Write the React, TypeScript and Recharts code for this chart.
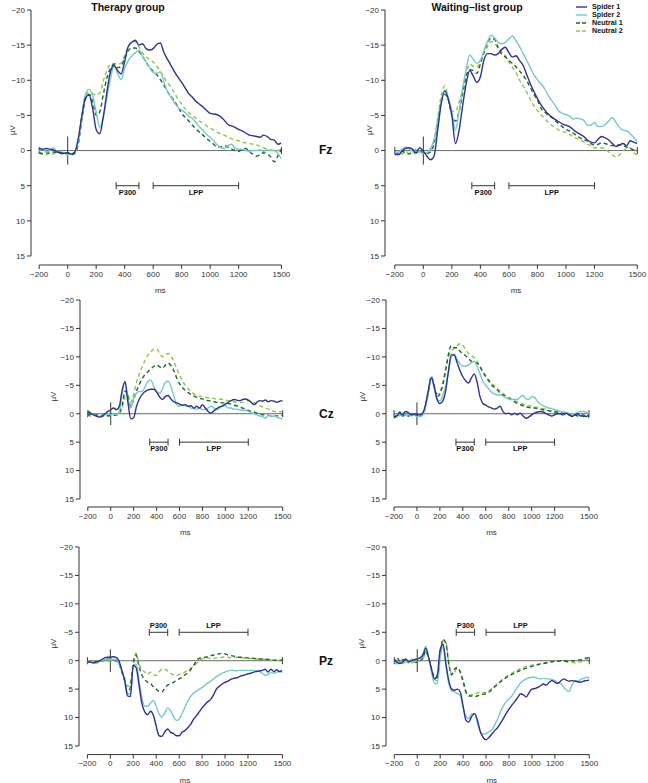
import React from 'react';
import { LineChart, Line, XAxis, YAxis, ReferenceLine, Label } from 'recharts';

// sample times in ms, one every 25 ms
const TIME = [
  -200, -175, -150, -125, -100, -75, -50, -25, 0,
  25, 50, 75, 100, 125, 150, 175, 200, 225, 250, 275, 300, 325, 350, 375, 400, 425, 450, 475, 500,
  525, 550, 575, 600, 625, 650, 675, 700, 725, 750, 775, 800, 825, 850, 875, 900, 925, 950, 975, 1000,
  1025, 1050, 1075, 1100, 1125, 1150, 1175, 1200, 1225, 1250, 1275, 1300, 1325, 1350, 1375, 1400, 1425, 1450, 1475, 1500,
];

const X_TICKS = [-200, 0, 200, 400, 600, 800, 1000, 1200, 1500];
const Y_TICKS = [-20, -15, -10, -5, 0, 5, 10, 15];

const P300 = [340, 500];
const LPP = [600, 1200];

const CONDITIONS = [
  { key: 'spider1', name: 'Spider 1', color: '#2e3192', dash: undefined },
  { key: 'spider2', name: 'Spider 2', color: '#74c9cc', dash: undefined },
  { key: 'neutral1', name: 'Neutral 1', color: '#1d6531', dash: '4 3' },
  { key: 'neutral2', name: 'Neutral 2', color: '#8dc63f', dash: '4 3' },
];

// ---- Fz ----
const FZ_THERAPY_SPIDER1 = [
  -0.3, -0.2, -0.3, -0.2, -0.1, 0.2, 0.3, 0.4, 0.3,
  0.5, 0.2, -1.8, -5.0, -7.5, -7.9, -6.0, -3.0, -2.4, -4.8, -8.3, -11.2, -12.1, -11.4, -10.9, -12.7, -14.8, -15.4, -15.7, -15.0,
  -15.2, -14.5, -14.3, -14.5, -15.1, -15.3, -14.0, -13.0, -12.1, -11.2, -10.4, -9.7, -8.9, -8.1, -7.6, -7.0, -6.6, -6.2, -5.7, -5.3,
  -5.2, -5.1, -4.8, -4.3, -3.7, -3.5, -3.3, -3.0, -2.8, -2.5, -2.2, -2.1, -2.0, -1.9, -2.2, -2.0, -1.6, -1.5, -0.9, -1.1,
];
const FZ_THERAPY_SPIDER2 = [
  0.1, -0.2, 0.2, 0.0, -0.4, 0.1, 0.2, 0.3, 0.6,
  0.4, 0.3, -1.5, -5.0, -8.0, -8.7, -7.8, -5.5, -3.3, -4.8, -7.5, -10.2, -12.0, -11.0, -10.1, -11.7, -12.8, -13.5, -13.9, -14.3,
  -13.4, -12.6, -11.8, -11.1, -11.0, -11.2, -9.8, -8.4, -7.6, -6.8, -6.1, -5.8, -5.4, -4.9, -4.6, -4.0, -3.4, -2.9, -2.3, -1.9,
  -1.4, -0.8, -0.4, -0.3, -0.7, -0.9, -0.3, -0.2, -0.2, 0.0, 0.1, 0.0, 0.0, -0.1, 0.1, -0.1, 0.0, 0.0, 0.4, 1.2,
];
const FZ_THERAPY_NEUTRAL1 = [
  0.3, 0.5, 0.3, 0.4, 0.2, 0.3, 0.4, 0.5, 0.3,
  0.6, 0.4, -1.0, -4.5, -7.3, -8.0, -7.0, -5.0, -5.5, -8.0, -10.3, -11.7, -12.3, -11.8, -12.0, -13.2, -14.2, -14.6, -14.6, -14.1,
  -13.4, -12.6, -11.8, -11.3, -10.8, -10.1, -9.3, -8.4, -7.7, -7.0, -6.2, -5.3, -4.7, -4.2, -3.6, -3.1, -2.6, -2.2, -1.7, -1.3,
  -0.9, -0.5, -0.5, -0.7, -0.5, -0.2, 0.0, 0.1, -0.2, -0.3, 0.2, 0.5, 0.8, 0.6, 0.3, 0.5, 0.9, 1.6, 0.8, -0.2,
];
const FZ_THERAPY_NEUTRAL2 = [
  0.2, 0.4, 0.6, 0.3, 0.5, 0.1, 0.4, 0.3, 0.4,
  0.5, 0.3, -1.5, -5.2, -7.8, -8.3, -8.1, -7.9, -8.2, -9.9, -11.4, -12.3, -12.4, -12.3, -12.4, -13.6, -14.8, -15.5, -15.5, -14.8,
  -13.9, -13.3, -13.0, -12.6, -12.0, -11.3, -10.4, -9.7, -9.0, -8.2, -7.3, -6.6, -5.9, -5.4, -5.0, -4.6, -4.2, -3.9, -3.5, -3.2,
  -2.9, -2.6, -2.4, -2.2, -1.9, -1.7, -1.5, -1.4, -1.2, -1.1, -1.0, -0.9, -0.8, -0.6, -0.4, -0.2, -0.1, 0.0, 0.0, -0.2,
];
const FZ_WAITING_SPIDER1 = [
  0.5, 0.6, 0.1, -0.3, -0.4, -0.2, 0.3, -0.4, 0.1,
  0.8, 1.3, 0.8, -2.8, -6.6, -8.5, -7.3, -5.0, -1.0, -2.8, -6.3, -9.5, -11.4, -10.6, -9.7, -10.5, -12.9, -13.8, -13.8, -13.6,
  -13.8, -14.4, -14.7, -13.9, -13.3, -13.5, -12.8, -12.1, -10.8, -9.5, -8.4, -7.4, -6.5, -5.8, -5.2, -4.8, -4.4, -4.1, -3.8, -3.6,
  -3.4, -3.0, -2.6, -2.3, -2.0, -1.5, -1.2, -1.1, -1.6, -2.0, -1.8, -1.5, -1.0, -0.6, -0.8, -1.0, -0.7, -1.4, -1.2, -1.0,
];
const FZ_WAITING_SPIDER2 = [
  0.3, 0.2, -0.2, -0.5, -0.3, 0.1, -0.2, 0.2, 0.4,
  0.3, -0.3, -1.5, -4.0, -7.0, -8.6, -7.6, -5.5, -2.9, -5.5, -8.8, -11.5, -13.6, -13.0, -12.4, -12.8, -14.2, -15.5, -16.4, -16.0,
  -15.4, -15.2, -15.4, -15.9, -16.3, -15.6, -14.8, -13.8, -12.8, -11.8, -10.8, -10.1, -9.5, -8.8, -7.9, -7.1, -6.4, -5.6, -5.3, -5.1,
  -4.9, -4.5, -4.6, -4.5, -4.3, -3.6, -3.6, -4.0, -3.4, -3.4, -3.7, -4.2, -4.7, -4.0, -3.3, -2.9, -2.8, -2.4, -1.9, -1.2,
];
const FZ_WAITING_NEUTRAL1 = [
  0.2, 0.4, 0.1, 0.3, 0.5, 0.2, 0.3, 0.1, 0.3,
  0.4, 0.2, -1.0, -4.0, -7.0, -8.0, -7.2, -5.0, -4.2, -5.5, -8.0, -10.5, -11.5, -11.4, -11.0, -12.3, -14.0, -15.3, -16.0, -15.8,
  -14.6, -13.7, -13.3, -12.8, -12.4, -11.9, -11.3, -10.7, -9.9, -9.0, -8.0, -7.2, -6.0, -5.5, -5.0, -4.7, -4.2, -3.8, -3.4, -3.0,
  -2.8, -2.5, -2.1, -1.8, -1.5, -1.4, -1.0, -0.8, -0.9, -1.1, -1.0, -0.8, -0.7, -0.8, -0.8, -0.7, -0.5, -0.3, -0.1, 0.1,
];
const FZ_WAITING_NEUTRAL2 = [
  0.7, 0.3, 0.5, 0.1, 0.4, 0.2, 0.5, 0.2, 0.3,
  0.4, 0.2, -1.5, -4.5, -7.8, -9.2, -7.5, -5.6, -5.6, -6.8, -8.6, -10.8, -12.3, -12.0, -11.8, -12.8, -13.9, -14.8, -15.5, -15.2,
  -14.6, -14.0, -13.5, -12.6, -11.8, -11.1, -10.0, -9.2, -8.3, -7.3, -6.4, -5.7, -5.1, -4.6, -4.0, -3.6, -3.3, -2.9, -2.7, -2.6,
  -2.3, -2.0, -1.7, -1.6, -1.2, -0.9, -0.7, -0.4, -0.4, -0.4, -0.2, 0.2, 0.6, 0.9, 0.6, 0.1, -0.3, -0.4, 0.3, 0.6,
];

// ---- Cz ----
const CZ_THERAPY_SPIDER1 = [
  -0.4, -0.1, 0.2, 0.4, 0.6, 0.4, 0.0, -0.4, -0.7,
  -1.0, -0.7, -1.3, -4.2, -5.6, -2.0, 0.9, 0.7, -1.3, -2.6, -3.4, -3.9, -4.2, -4.3, -4.3, -3.8, -3.0, -2.5, -3.0, -3.2,
  -2.6, -2.1, -1.9, -1.7, -1.5, -1.6, -1.3, -1.4, -1.0, -1.3, -1.0, -1.6, -1.0, -0.4, -0.1, -0.5, -0.9, -1.2, -1.4, -1.7,
  -2.0, -2.3, -2.5, -2.4, -2.3, -2.5, -2.6, -2.4, -2.0, -1.6, -2.0, -2.3, -2.2, -2.4, -2.1, -2.3, -2.2, -2.0, -2.2, -2.3,
];
const CZ_THERAPY_SPIDER2 = [
  -0.6, -0.1, 0.2, 0.4, 0.5, 0.2, 0.2, 0.0, 0.2,
  0.0, 0.2, -0.4, -3.6, -5.7, -2.5, -1.0, -2.8, -3.6, -3.9, -3.9, -4.8, -5.7, -5.9, -4.8, -3.9, -3.6, -4.3, -5.5, -5.7,
  -4.8, -3.1, -1.6, -1.3, -1.6, -1.4, -1.3, -1.0, -0.9, -0.8, -1.0, -0.7, -0.8, -1.0, -1.3, -1.0, -0.7, -1.0, -1.3, -1.4,
  -1.0, -1.0, -0.8, -0.8, -0.7, -0.6, -0.6, -0.4, -0.2, 0.0, 0.2, 0.4, 0.5, 0.8, 0.2, 0.5, 0.4, 0.6, 0.8, 0.9,
];
const CZ_THERAPY_NEUTRAL1 = [
  0.3, 0.1, 0.4, 0.2, 0.3, 0.5, 0.2, 0.4, 0.3,
  0.3, 0.2, -0.2, -1.5, -4.0, -3.0, -1.2, -2.5, -4.0, -5.2, -6.2, -6.9, -7.4, -7.9, -8.3, -8.6, -8.3, -8.0, -8.5, -8.9,
  -8.5, -7.6, -6.3, -5.3, -4.6, -4.1, -3.7, -3.4, -3.1, -2.9, -2.7, -2.6, -2.4, -2.3, -2.2, -2.1, -2.0, -2.0, -1.9, -1.9,
  -1.8, -1.7, -1.5, -1.4, -1.2, -1.0, -0.8, -0.6, -0.4, -0.3, -0.1, 0.0, 0.2, 0.2, 0.3, 0.4, 0.4, 0.4, 0.3, 0.2,
];
const CZ_THERAPY_NEUTRAL2 = [
  0.2, 0.4, 0.1, 0.3, 0.6, 0.3, 0.1, 0.3, 0.2,
  0.3, 0.3, 0.0, -1.0, -3.0, -3.3, -2.0, -3.5, -5.5, -7.0, -8.3, -9.4, -10.3, -10.9, -11.3, -11.4, -10.7, -10.0, -10.3, -10.6,
  -10.2, -9.2, -8.0, -6.8, -5.8, -5.0, -4.4, -3.9, -3.5, -3.2, -3.1, -3.0, -2.9, -2.8, -2.8, -2.7, -2.6, -2.6, -2.5, -2.4,
  -2.3, -2.2, -2.1, -2.0, -2.0, -2.0, -2.2, -2.3, -2.2, -1.9, -1.6, -1.4, -1.2, -1.0, -0.8, -0.6, -0.4, -0.3, -0.3, -0.4,
];
const CZ_WAITING_SPIDER1 = [
  0.5, 0.4, -0.1, 0.2, -0.4, -0.2, 0.2, 0.0, 0.2,
  0.2, -0.1, -1.6, -4.2, -6.3, -4.8, -2.6, -1.8, -2.2, -4.0, -7.5, -10.4, -10.3, -9.0, -7.6, -6.5, -5.8, -5.4, -6.3, -7.0,
  -5.5, -3.0, -1.8, -1.5, -1.2, -1.0, -0.8, -1.0, -1.3, -0.4, 0.0, -0.1, 0.2, -0.1, 0.2, -0.1, 0.4, 0.8, 0.6, 0.2,
  -0.1, -0.3, -0.4, -0.3, 0.0, 0.2, 0.4, 0.2, 0.0, 0.0, 0.2, -0.1, 0.2, 0.5, 0.2, 0.0, 0.4, 0.2, 0.5, 0.2,
];
const CZ_WAITING_SPIDER2 = [
  0.6, 0.2, 0.4, -0.2, 0.3, 0.1, 0.4, 0.2, 0.5,
  0.5, 0.3, -1.3, -4.0, -6.5, -4.5, -2.5, -2.3, -3.2, -4.8, -7.5, -10.0, -10.5, -9.5, -8.8, -8.4, -8.4, -8.6, -9.0, -9.2,
  -8.3, -7.0, -5.7, -5.0, -4.4, -3.8, -3.5, -3.3, -3.3, -3.1, -2.8, -2.6, -2.5, -2.5, -2.5, -2.9, -3.2, -2.6, -2.5, -3.0,
  -2.9, -2.2, -1.7, -1.4, -1.2, -1.0, -0.9, -0.7, -0.6, -0.4, -0.3, -0.2, -0.1, 0.0, 0.1, -0.2, -0.4, -0.4, -0.3, 0.0,
];
const CZ_WAITING_NEUTRAL1 = [
  0.8, 0.2, -0.3, 0.5, 0.0, 0.4, 0.1, 0.3, 0.2,
  0.3, 0.0, -1.5, -4.0, -6.6, -5.0, -3.0, -3.5, -5.0, -7.5, -10.5, -12.0, -11.6, -11.6, -11.0, -10.6, -10.2, -9.7, -9.2, -9.0,
  -8.9, -8.2, -7.3, -6.5, -5.8, -5.1, -4.6, -4.2, -3.6, -3.3, -3.0, -2.7, -2.4, -2.1, -1.8, -1.6, -1.4, -1.2, -1.1, -1.0,
  -1.0, -0.9, -0.8, -0.7, -0.6, -0.5, -0.4, -0.3, -0.3, -0.2, -0.1, 0.0, 0.1, 0.3, 0.2, 0.4, 0.3, 0.5, 0.3, 0.6,
];
const CZ_WAITING_NEUTRAL2 = [
  0.3, 0.6, 0.2, 0.4, 0.1, 0.5, 0.3, 0.2, 0.4,
  0.3, 0.2, -1.2, -3.5, -6.2, -5.0, -3.5, -3.8, -5.5, -8.0, -10.0, -11.0, -11.5, -12.0, -12.3, -12.0, -11.3, -10.6, -10.2, -9.8,
  -9.2, -8.4, -7.5, -6.8, -6.0, -5.4, -4.9, -4.4, -4.0, -3.6, -3.2, -2.9, -2.6, -2.3, -2.1, -1.9, -1.7, -1.5, -1.4, -1.3,
  -1.2, -1.1, -1.0, -0.9, -0.8, -0.6, -0.5, -0.4, -0.3, -0.2, 0.0, 0.2, 0.1, 0.3, 0.2, 0.1, 0.3, 0.4, 0.6, 0.8,
];

// ---- Pz ----
const PZ_THERAPY_SPIDER1 = [
  0.3, 0.2, 0.4, 0.2, 0.1, -0.2, -0.5, -0.6, -0.6,
  -0.7, -0.6, 0.0, 1.7, 3.5, 6.2, 6.3, 0.8, 1.2, 4.3, 7.5, 9.0, 9.5, 8.9, 9.6, 11.5, 13.2, 13.3, 12.5, 12.0,
  12.6, 12.8, 13.2, 13.2, 12.6, 12.3, 11.8, 11.2, 10.3, 9.7, 9.0, 8.3, 7.7, 7.2, 6.8, 6.0, 5.0, 4.5, 4.1, 3.8,
  3.6, 3.3, 3.1, 3.0, 2.8, 2.6, 2.5, 2.3, 2.2, 2.0, 1.9, 1.8, 1.7, 1.5, 2.0, 1.5, 1.9, 1.6, 1.9, 1.7,
];
const PZ_THERAPY_SPIDER2 = [
  0.4, 0.2, 0.3, 0.5, 0.2, 0.0, -0.2, -0.3, -0.3,
  -0.2, -0.2, 0.5, 1.8, 3.3, 5.8, 5.8, 0.8, 0.6, 3.5, 6.5, 8.0, 8.0, 7.5, 7.0, 8.0, 9.4, 9.9, 9.2, 8.3,
  8.8, 9.8, 10.5, 10.3, 9.3, 8.2, 7.1, 6.3, 5.7, 5.4, 5.0, 4.7, 4.3, 3.9, 3.6, 3.2, 2.8, 2.5, 2.2, 2.0,
  1.8, 1.7, 1.7, 1.8, 1.7, 1.7, 1.7, 1.7, 1.7, 1.7, 1.8, 1.9, 2.2, 2.6, 2.4, 2.1, 2.2, 2.0, 1.9, 2.1,
];
const PZ_THERAPY_NEUTRAL1 = [
  0.2, 0.3, 0.1, 0.3, 0.2, 0.0, -0.1, -0.3, -0.3,
  -0.2, -0.1, 0.5, 2.0, 3.5, 5.8, 4.5, 0.5, -1.0, 1.0, 2.5, 3.3, 3.8, 4.0, 4.6, 5.0, 5.4, 5.5, 4.8, 4.3,
  4.0, 3.8, 3.5, 3.2, 2.9, 2.5, 2.1, 1.6, 0.9, 0.0, -0.4, -0.5, -0.6, -0.7, -0.9, -1.0, -1.1, -1.2, -1.3, -1.2,
  -1.0, -0.9, -0.8, -0.7, -0.6, -0.6, -0.5, -0.5, -0.5, -0.4, -0.4, -0.3, -0.3, -0.3, -0.2, -0.2, -0.1, -0.1, -0.1, -0.1,
];
const PZ_THERAPY_NEUTRAL2 = [
  0.1, 0.2, 0.0, 0.2, 0.3, 0.1, 0.0, 0.1, 0.0,
  0.0, 0.1, 0.3, 1.8, 3.0, 4.5, 4.0, 0.0, -1.3, 0.5, 1.5, 2.0, 2.4, 2.0, 2.4, 2.6, 2.0, 1.5, 1.5, 1.8,
  2.2, 2.5, 2.6, 2.4, 2.2, 2.0, 1.7, 1.3, 1.0, 0.5, 0.0, -0.3, -0.4, -0.5, -0.4, -0.4, -0.5, -0.5, -0.6, -0.7,
  -0.6, -0.5, -0.5, -0.6, -0.6, -0.5, -0.5, -0.4, -0.4, -0.3, -0.3, -0.3, -0.2, -0.2, -0.2, -0.1, -0.1, -0.1, 0.0, 0.0,
];
const PZ_WAITING_SPIDER1 = [
  -0.2, 0.3, 0.5, 0.2, -0.3, 0.2, 0.0, -0.2, -0.3,
  -0.5, -1.0, -2.2, -0.5, 1.5, 3.2, 2.5, -2.0, -2.9, 0.5, 3.5, 5.0, 5.2, 5.0, 5.5, 8.0, 10.5, 10.8, 9.8, 9.3,
  10.5, 12.5, 13.5, 13.9, 13.5, 12.9, 12.3, 11.8, 11.0, 10.2, 9.3, 8.5, 7.8, 7.2, 6.5, 5.8, 6.0, 6.4, 5.6, 5.0,
  4.9, 4.7, 4.4, 4.1, 4.3, 3.8, 3.5, 3.8, 4.0, 3.6, 3.2, 3.4, 3.6, 3.5, 3.6, 3.7, 3.8, 3.6, 3.5, 3.4,
];
const PZ_WAITING_SPIDER2 = [
  0.4, 0.1, 0.3, 0.5, 0.2, 0.4, -0.3, 0.2, -0.3,
  -0.5, -1.3, -2.5, -0.5, 2.0, 4.0, 4.0, -0.5, -2.5, 1.0, 4.0, 5.3, 5.5, 5.8, 6.1, 8.3, 9.8, 10.2, 9.3, 9.3,
  11.0, 12.5, 12.9, 12.8, 12.5, 12.2, 11.3, 10.3, 9.0, 8.0, 7.2, 6.7, 6.2, 5.4, 4.6, 3.9, 3.5, 3.2, 3.0, 2.9,
  2.9, 3.1, 3.2, 3.1, 3.2, 3.2, 3.3, 3.5, 3.8, 4.0, 4.6, 5.2, 5.4, 4.2, 3.5, 3.6, 3.3, 3.1, 2.9, 3.0,
];
const PZ_WAITING_NEUTRAL1 = [
  0.5, -0.5, 0.2, -0.2, 0.1, 0.3, -0.1, 0.2, 0.3,
  0.0, -0.5, -1.8, -0.5, 1.5, 3.0, 3.0, -1.0, -3.8, -3.0, 0.5, 2.5, 1.5, 1.2, 2.0, 3.5, 5.5, 6.2, 6.2, 6.3,
  6.2, 6.0, 5.9, 5.8, 5.5, 5.1, 4.6, 4.2, 3.7, 3.3, 3.0, 2.7, 2.4, 2.2, 1.9, 1.7, 1.5, 1.3, 1.1, 1.0,
  0.8, 0.7, 0.6, 0.5, 0.4, 0.3, 0.2, 0.1, 0.1, 0.0, 0.0, 0.1, 0.1, 0.0, 0.0, -0.1, -0.2, -0.3, -0.5, -0.6,
];
const PZ_WAITING_NEUTRAL2 = [
  0.2, 0.6, 0.1, 0.3, -0.2, 0.2, 0.4, 0.1, 0.2,
  0.0, -0.4, -1.5, -0.3, 1.5, 3.3, 3.5, -1.0, -3.6, -3.3, 0.5, 2.3, 2.0, 1.3, 2.0, 4.0, 5.6, 6.0, 6.0, 5.9,
  5.7, 5.5, 5.6, 5.6, 5.3, 4.9, 4.4, 4.0, 3.6, 3.2, 2.8, 2.5, 2.2, 1.9, 1.6, 1.4, 1.2, 1.0, 0.9, 0.8,
  0.7, 0.6, 0.5, 0.4, 0.3, 0.3, 0.2, 0.1, 0.0, 0.0, 0.1, 0.2, 0.3, 0.3, 0.4, 0.3, 0.2, 0.1, -0.2, -0.5,
];

// pixel geometry of each panel: y-axis x, x of -200 / 1500 ms, y of -20 / 15 µV, x-axis y
type Box = { axisX: number; left: number; right: number; top: number; bottom: number; axisY: number; labelGap: number };

const Y_AXIS_W = 32;
const X_AXIS_H = 32;
const PAD_TOP = 6;
const PAD_RIGHT = 14;
const INK = '#333';
const FONT = '"Liberation Sans", Arial, Helvetica, sans-serif';

const fmt = (v: number) => (v < 0 ? `\u2212${Math.abs(v)}` : `${v}`);

const Panel = ({ box, series, windowsAbove = false }: { box: Box; series: number[][]; windowsAbove?: boolean }) => {
  const msPerPx = 1700 / (box.right - box.left);
  const uvPerPx = 35 / (box.bottom - box.top);
  const xMin = -200 - (box.left - box.axisX) * msPerPx;
  const yMax = 15 + (box.axisY - box.bottom) * uvPerPx;
  const width = Y_AXIS_W + (box.right - box.axisX) + PAD_RIGHT;
  const height = PAD_TOP + (box.axisY - box.top) + X_AXIS_H;

  const rows = TIME.map((t, i) => {
    const row: Record<string, number> = { t };
    CONDITIONS.forEach((c, j) => {
      row[c.key] = series[j][i];
    });
    return row;
  });

  const winY = windowsAbove ? -5 : 5;
  const capH = 3.5 * uvPerPx;
  const windows = [
    { name: 'P300', range: P300 },
    { name: 'LPP', range: LPP },
  ];

  return (
    <div style={{ position: 'absolute', left: box.axisX - Y_AXIS_W, top: box.top - PAD_TOP }}>
      <LineChart
        width={width}
        height={height}
        data={rows}
        margin={{ top: PAD_TOP, right: PAD_RIGHT, bottom: 0, left: 0 }}
      >
        <XAxis
          dataKey="t"
          type="number"
          domain={[xMin, 1500]}
          allowDataOverflow
          ticks={X_TICKS}
          interval={0}
          axisLine={false}
          tickLine={{ stroke: INK }}
          tickSize={4}
          tick={{ fill: INK, fontSize: 8 }}
          tickFormatter={fmt}
          height={X_AXIS_H}
        >
          <Label value="ms" position="insideBottom" offset={4} dx={(box.left - box.axisX) / 2} fontSize={8} fill={INK} />
        </XAxis>
        <YAxis
          type="number"
          domain={[-20, yMax]}
          allowDataOverflow
          reversed
          ticks={Y_TICKS}
          interval={0}
          axisLine={false}
          tickLine={{ stroke: INK }}
          tickSize={4}
          tick={{ fill: INK, fontSize: 8 }}
          tickFormatter={fmt}
          width={Y_AXIS_W}
        >
          <Label
            value="µV"
            angle={-90}
            position="insideLeft"
            offset={Y_AXIS_W - box.labelGap}
            dy={-(box.axisY - box.bottom) / 2 - 3}
            fontSize={8}
            fill={INK}
            style={{ textAnchor: 'middle' }}
          />
        </YAxis>

        {/* detached axis lines */}
        <ReferenceLine segment={[{ x: -200, y: yMax }, { x: 1500, y: yMax }]} stroke={INK} ifOverflow="visible" />
        <ReferenceLine segment={[{ x: xMin, y: -20 }, { x: xMin, y: 15 }]} stroke={INK} ifOverflow="visible" />

        {/* baseline with end caps and stimulus onset */}
        <ReferenceLine segment={[{ x: -200, y: 0 }, { x: 1500, y: 0 }]} stroke="#6a6a6a" ifOverflow="visible" />
        <ReferenceLine segment={[{ x: -200, y: -capH }, { x: -200, y: capH }]} stroke={INK} ifOverflow="visible" />
        <ReferenceLine segment={[{ x: 1500, y: -capH }, { x: 1500, y: capH }]} stroke={INK} ifOverflow="visible" />
        <ReferenceLine segment={[{ x: 0, y: -2 }, { x: 0, y: 2 }]} stroke={INK} ifOverflow="visible" />

        {/* analysis windows */}
        {windows.map((w) => (
          <ReferenceLine
            key={w.name}
            segment={[{ x: w.range[0], y: winY }, { x: w.range[1], y: winY }]}
            stroke={INK}
            ifOverflow="visible"
            label={{ value: w.name, position: windowsAbove ? 'top' : 'bottom', offset: 4, fontSize: 7.5, fontWeight: 700, fill: '#111' }}
          />
        ))}
        {windows.flatMap((w) =>
          w.range.map((x) => (
            <ReferenceLine
              key={`${w.name}-${x}`}
              segment={[{ x, y: winY - capH }, { x, y: winY + capH }]}
              stroke={INK}
              ifOverflow="visible"
            />
          )),
        )}

        {[...CONDITIONS].reverse().map((c) => (
          <Line
            key={c.key}
            type="monotone"
            dataKey={c.key}
            stroke={c.color}
            strokeWidth={1.4}
            strokeDasharray={c.dash}
            dot={false}
            activeDot={false}
            isAnimationActive={false}
          />
        ))}
      </LineChart>
    </div>
  );
};

const KeyBox = () => (
  <div style={{ position: 'absolute', left: 576, top: 3, fontSize: 7.2, fontWeight: 700, lineHeight: '8px' }}>
    {CONDITIONS.map((c) => (
      <div key={c.key} style={{ display: 'flex', alignItems: 'center', height: 8 }}>
        <svg width={11} height={8}>
          <line x1={0} x2={11} y1={4} y2={4} stroke={c.color} strokeWidth={1.4} strokeDasharray={c.dash ? '4 2' : undefined} />
        </svg>
        <span style={{ marginLeft: 5 }}>{c.name}</span>
      </div>
    ))}
  </div>
);

const heading = (text: string, center: number) => (
  <div
    style={{ position: 'absolute', left: center - 100, top: 1, width: 200, textAlign: 'center', fontSize: 10.5, fontWeight: 700, lineHeight: '12px' }}
  >
    {text}
  </div>
);

const rowLabel = (text: string, y: number) => (
  <div style={{ position: 'absolute', left: 319, top: y - 7, fontSize: 12, fontWeight: 700, lineHeight: '14px' }}>{text}</div>
);

const App = () => (
  <div style={{ position: 'absolute', left: 0, top: 0, width: 648, height: 783, background: '#fff', fontFamily: FONT, color: '#111' }}>
    {heading('Therapy group', 128)}
    {heading('Waiting\u2013list group', 477)}
    <KeyBox />

    <Panel box={{ axisX: 31, left: 39.2, right: 281.4, top: 10, bottom: 256, axisY: 265, labelGap: 19 }}
      series={[FZ_THERAPY_SPIDER1, FZ_THERAPY_SPIDER2, FZ_THERAPY_NEUTRAL1, FZ_THERAPY_NEUTRAL2]} />
    <Panel box={{ axisX: 385, left: 394.8, right: 637.3, top: 10, bottom: 256, axisY: 265, labelGap: 16 }}
      series={[FZ_WAITING_SPIDER1, FZ_WAITING_SPIDER2, FZ_WAITING_NEUTRAL1, FZ_WAITING_NEUTRAL2]} />

    <Panel box={{ axisX: 80, left: 87.8, right: 282.7, top: 300, bottom: 499, axisY: 507, labelGap: 27 }}
      series={[CZ_THERAPY_SPIDER1, CZ_THERAPY_SPIDER2, CZ_THERAPY_NEUTRAL1, CZ_THERAPY_NEUTRAL2]} />
    <Panel box={{ axisX: 386, left: 394, right: 589, top: 300, bottom: 499, axisY: 507, labelGap: 24 }}
      series={[CZ_WAITING_SPIDER1, CZ_WAITING_SPIDER2, CZ_WAITING_NEUTRAL1, CZ_WAITING_NEUTRAL2]} />

    <Panel box={{ axisX: 79.3, left: 87.7, right: 282.7, top: 546.7, bottom: 745.7, axisY: 754.3, labelGap: 26 }}
      series={[PZ_THERAPY_SPIDER1, PZ_THERAPY_SPIDER2, PZ_THERAPY_NEUTRAL1, PZ_THERAPY_NEUTRAL2]} windowsAbove />
    <Panel box={{ axisX: 385.7, left: 394, right: 589, top: 546.7, bottom: 745.7, axisY: 754.3, labelGap: 25 }}
      series={[PZ_WAITING_SPIDER1, PZ_WAITING_SPIDER2, PZ_WAITING_NEUTRAL1, PZ_WAITING_NEUTRAL2]} windowsAbove />

    {rowLabel('Fz', 150)}
    {rowLabel('Cz', 414)}
    {rowLabel('Pz', 661)}
  </div>
);

export default App;
